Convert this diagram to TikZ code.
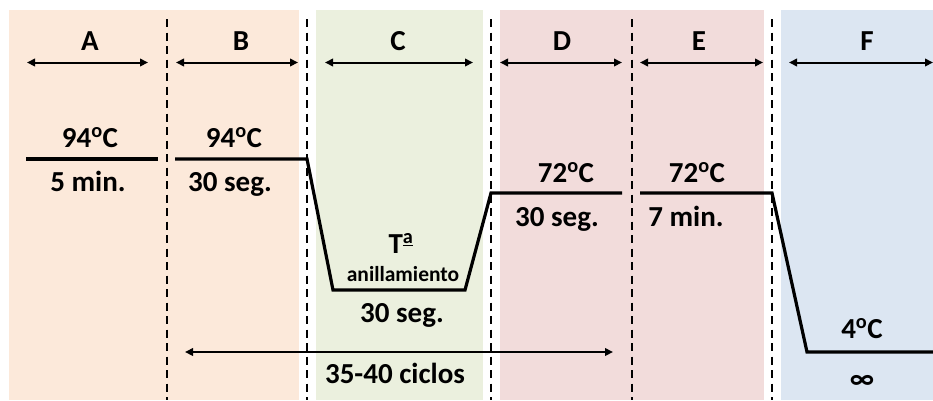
\documentclass[tikz,border=0pt]{standalone}
\usepackage{fontspec}
\setmainfont{Carlito}
\usetikzlibrary{arrows.meta}
\definecolor{bgA}{HTML}{FCE9DA}
\definecolor{bgC}{HTML}{EBF0DE}
\definecolor{bgD}{HTML}{F2DCDB}
\definecolor{bgF}{HTML}{DCE6F2}
\newcommand{\degsym}{\textsuperscript{o}}
\begin{document}
\begin{tikzpicture}[x=1pt,y=-1pt,
  txt/.style={font=\fontsize{29}{34}\selectfont\bfseries, anchor=base, inner sep=0pt},
  small/.style={font=\fontsize{21.5}{26}\selectfont\bfseries, anchor=base, inner sep=0pt},
  dashline/.style={line width=2pt, dash pattern=on 8pt off 5.5pt},
  dimarrow/.style={line width=2pt, {Triangle[length=8pt,width=7.5pt]}-{Triangle[length=8pt,width=7.5pt]}},
  templine/.style={line width=3.2pt, line join=miter}]
\useasboundingbox (0,0) rectangle (933,400);
% backgrounds
\fill[bgA] (9,10) rectangle (299,400);
\fill[bgC] (316,10) rectangle (483,400);
\fill[bgD] (500,10) rectangle (764,400);
\fill[bgF] (781,10) rectangle (933,400);
% dashed separators
\foreach \n/\x in {1/166.7,2/306.7,3/491,4/632,5/772}{
  \coordinate (s\n t) at (\x,19);
  \coordinate (s\n b) at (\x,400);
  \draw[dashline] (s\n t) -- (s\n b);
}
% phase labels
\node[txt] (lA) at (90,50) {A};
\node[txt] (lB) at (241,50) {B};
\node[txt] (lC) at (398,50) {C};
\node[txt] (lD) at (562,50) {D};
\node[txt] (lE) at (699,50) {E};
\node[txt] (lF) at (867,50) {F};
% phase arrows
\coordinate (aA1) at (27,62.5); \coordinate (aA2) at (148,62.5);
\coordinate (aB1) at (176,62.5); \coordinate (aB2) at (298,62.5);
\coordinate (aC1) at (325,62.5); \coordinate (aC2) at (473,62.5);
\coordinate (aD1) at (500,62.5); \coordinate (aD2) at (622,62.5);
\coordinate (aE1) at (640,62.5); \coordinate (aE2) at (763,62.5);
\coordinate (aF1) at (789,62.5); \coordinate (aF2) at (933,62.5);
\foreach \p in {A,B,C,D,E,F}{\draw[dimarrow] (a\p1) -- (a\p2);}
% temperature profile
\coordinate (t1) at (26,159); \coordinate (t2) at (158,159);
\coordinate (t3) at (175,159); \coordinate (t4) at (307,159);
\coordinate (t5) at (333,290); \coordinate (t6) at (465,290);
\coordinate (t7) at (491,193); \coordinate (t8) at (622,193);
\coordinate (t9) at (640,193); \coordinate (t10) at (772,193);
\coordinate (t11) at (807,352); \coordinate (t12) at (933,352);
\draw[templine] (t1) -- (t2);
\draw[templine] (t3) -- (t4) -- (t5) -- (t6) -- (t7) -- (t8);
\draw[templine] (t9) -- (t10) -- (t11) -- (t12);
% texts
\node[txt] (tA) at (90,147) {94\degsym C};
\node[txt] (dA) at (88,191) {5 min.};
\node[txt] (tB) at (234,147) {94\degsym C};
\node[txt] (dB) at (230,191) {30 seg.};
\node[txt] (tC) at (401,253) {T\textsuperscript{\underline{a}}};
\node[small] (tC2) at (403,281) {anillamiento};
\node[txt] (dC) at (402,322) {30 seg.};
\node[txt] (tD) at (566,182) {72\degsym C};
\node[txt] (dD) at (557,226) {30 seg.};
\node[txt] (tE) at (697,182) {72\degsym C};
\node[txt] (dE) at (686,226) {7 min.};
\node[txt] (tF) at (862,338) {4\degsym C};
\node[txt] (dF) at (862,388) {∞};
% cycles
\coordinate (c1) at (185,352); \coordinate (c2) at (613,352);
\draw[dimarrow] (c1) -- (c2);
\node[txt] (cyc) at (395,383) {35-40 ciclos};
\end{tikzpicture}
\end{document}
